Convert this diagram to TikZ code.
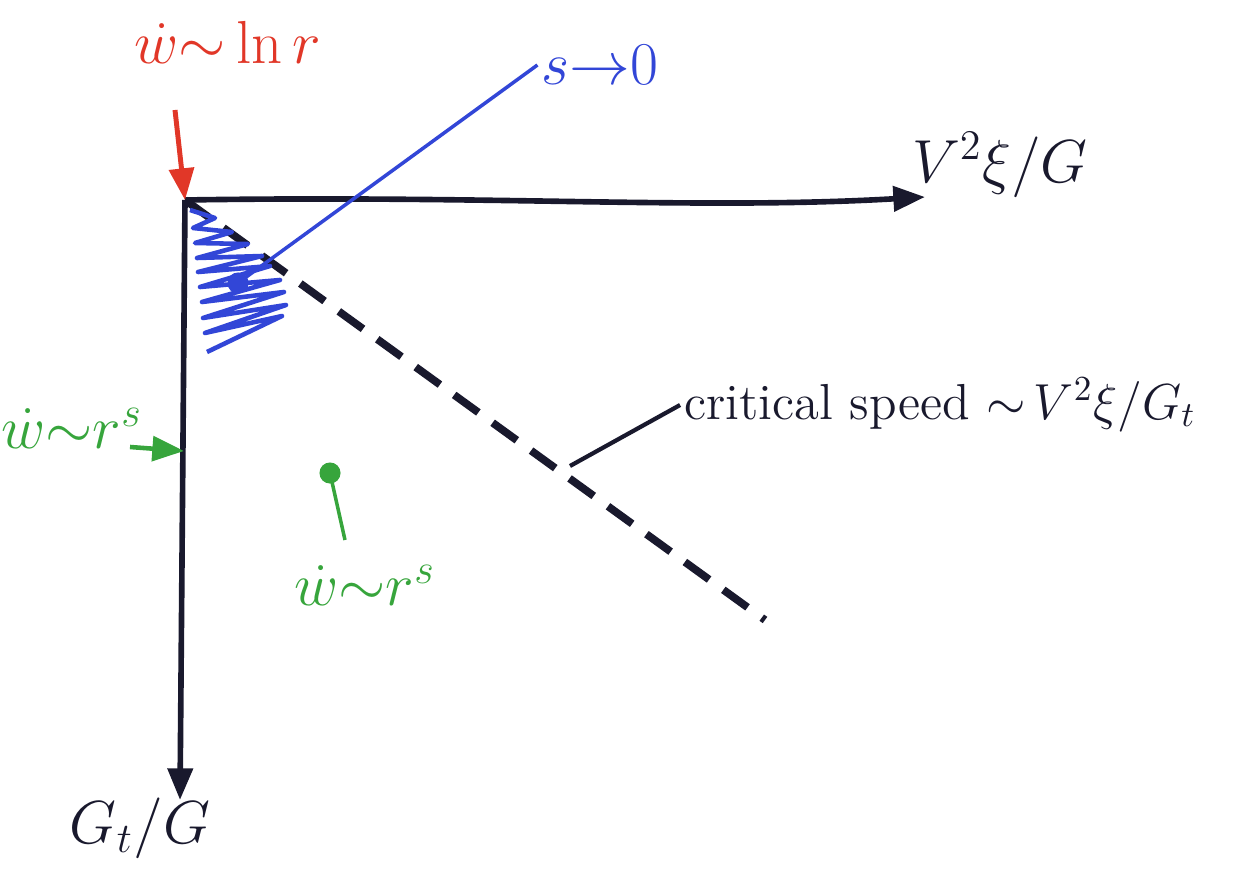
\documentclass[tikz,border=0pt]{standalone}
\usepackage{tikz}
\usetikzlibrary{arrows.meta, positioning, calc}

\definecolor{inkblack}{RGB}{25,25,45}
\definecolor{inkred}{RGB}{225,55,40}
\definecolor{inkblue}{RGB}{50,70,215}
\definecolor{inkgreen}{RGB}{55,165,60}

\begin{document}
\begin{tikzpicture}[x=0.01cm, y=-0.01cm, >={Triangle[length=9pt, width=7pt]}]
            \tikzstyle{axis} = [draw=inkblack, line width=1.6pt, ->]
            \tikzstyle{lbl} = [font=\LARGE, inner sep=1pt]
            \tikzstyle{critline} = [draw=inkblack, line width=2.2pt, dash pattern=on 8.5pt off 5pt]
            \useasboundingbox (0,0) rectangle (1233,879);

            \coordinate (origin) at (185,200);
            \coordinate (xend) at (925,197);
            \coordinate (yend) at (180,800);
            \coordinate (dend) at (765,620);

            % axes and the critical line
            \draw[axis] (origin) .. controls (500,195) and (700,210) .. (xend);
            \draw[axis] (origin) -- (yend);
            \draw[critline] (origin) -- (dend);
            \node[lbl, text=inkblack] (xlab) at (1000,165) {$V^2\xi/G$};
            \node[lbl, text=inkblack] (ylab) at (140,828) {$G_t/G$};

            % red label at the corner
            \node[lbl, text=inkred] (lnlab) at (228,42) {$\dot w{\sim}\ln r$};
            \coordinate (redstart) at (175,110);
            \draw[inkred, line width=1.4pt, ->] (redstart) -- (origin);

            % blue scribbled wedge and its label
            \draw[inkblue, line width=1.3pt, line join=round]
                (190,210) -- (215,218) -- (193,228) -- (232,232) -- (195,243) -- (248,244)
                -- (197,258) -- (262,256) -- (198,272) -- (270,266) -- (200,287) -- (280,280)
                -- (202,302) -- (284,292) -- (203,318) -- (286,305) -- (205,333) -- (282,316)
                -- (207,352);
            \node[lbl, text=inkblue] (slab) at (600,65) {$s{\to}0$};
            \coordinate (sdot) at (238,283);
            \draw[inkblue, line width=1pt] (slab.west) -- (sdot);
            \fill[inkblue] (sdot) circle (3pt);

            % critical speed
            \node[font=\Large, text=inkblack, inner sep=1pt] (crit) at (940,405) {critical speed ${\sim}\,V^2\xi/G_t$};
            \coordinate (critpt) at (570,466);
            \draw[inkblack, line width=1.2pt] (crit.west) -- (critpt);

            % green labels
            \node[lbl, text=inkgreen] (rlab) at (72,428) {$\dot w{\sim}r^s$};
            \coordinate (gstart) at (130,447);
            \coordinate (gend) at (184,451);
            \draw[inkgreen, line width=1.3pt, ->] (gstart) -- (gend);
            \node[lbl, text=inkgreen] (rlabin) at (365,585) {$\dot w{\sim}r^s$};
            \coordinate (gdot) at (330,473);
            \coordinate (gtail) at (345,540);
            \draw[inkgreen, line width=1pt] (gdot) -- (gtail);
            \fill[inkgreen] (gdot) circle (3pt);
        \end{tikzpicture}
\end{document}
